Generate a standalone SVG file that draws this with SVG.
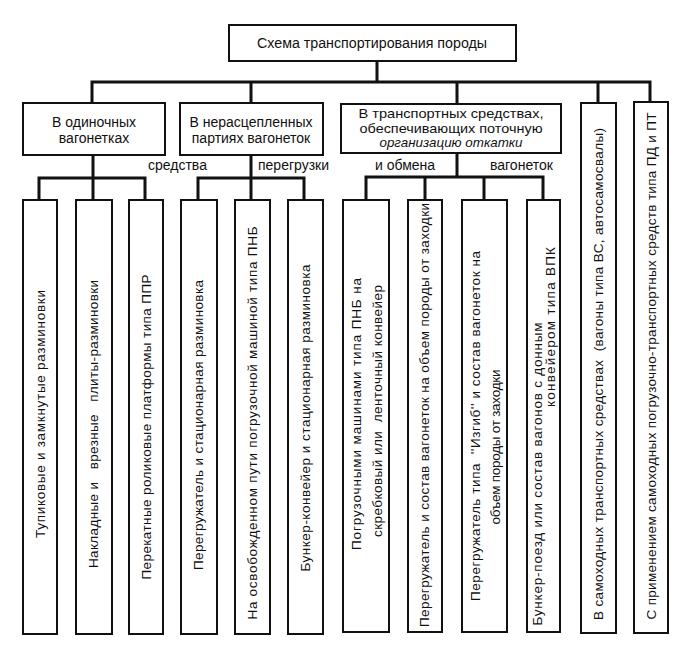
<svg xmlns="http://www.w3.org/2000/svg" width="675" height="647" viewBox="0 0 675 647">
<style>
.box{fill:#fff;stroke:#111;stroke-width:2}
.con{fill:none;stroke:#111;stroke-width:3;stroke-linecap:square}
text{font-family:"Liberation Sans",Arial,sans-serif;font-size:14px;fill:#111}
.c{text-anchor:middle}
.v{font-size:13.5px}
.s{font-size:13px}
</style>
<rect width="675" height="647" fill="#fff"/>
<g id="connectors">
<path class="con" d="M377,61V82 M92,82H650 M92,82V103 M251,82V103 M457,82V104 M598,82V103 M650,82V102"/>
<path class="con" d="M93,155V178 M39,178H145 M39,178V200 M93,178V200 M145,178V200"/>
<path class="con" d="M251,155V178 M198,178H304 M198,178V200 M251,178V200 M304,178V200"/>
<path class="con" d="M457,153V177 M366,177H543 M366,177V200 M425,177V200 M484,177V200 M543,177V200"/>
</g>
<g id="root"><rect class="box" x="229" y="25" width="287" height="36"/><text class="c" x="372" y="48" textLength="230" lengthAdjust="spacingAndGlyphs">Схема транспортирования породы</text></g>
<g id="n1"><rect class="box" x="23" y="103" width="142" height="52"/><text class="c" x="94" y="127">В одиночных</text><text class="c" x="94" y="143">вагонетках</text></g>
<g id="n2"><rect class="box" x="180" y="103" width="143" height="52"/><text class="c" x="251" y="127">В нерасцепленных</text><text class="c" x="251" y="143">партиях вагонеток</text></g>
<g id="n3"><rect class="box" x="341" y="104" width="220" height="49"/><text class="c s" x="451" y="118" textLength="185" lengthAdjust="spacingAndGlyphs">В транспортных средствах,</text><text class="c s" x="451" y="132.5" textLength="183" lengthAdjust="spacingAndGlyphs">обеспечивающих поточную</text><text class="c s" x="451" y="147" font-style="italic" textLength="143" lengthAdjust="spacingAndGlyphs">организацию откатки</text></g>
<g id="labels">
<text x="148" y="170">средства</text>
<text x="258" y="170">перегрузки</text>
<text x="375" y="170">и обмена</text>
<text x="490" y="170">вагонеток</text>
</g>
<g id="b1"><rect class="box" x="23" y="200" width="34" height="434"/><text class="c v" transform="translate(40,414) rotate(-90)" dy="0.35em" textLength="248">Тупиковые и замкнутые разминовки</text></g>
<g id="b2"><rect class="box" x="76" y="200" width="36" height="434"/><text class="c v" xml:space="preserve" transform="translate(93,424) rotate(-90)" dy="0.35em" textLength="288">Накладные и   врезные   плиты-разминовки</text></g>
<g id="b3"><rect class="box" x="129" y="200" width="34" height="434"/><text class="c v" transform="translate(146,427) rotate(-90)" dy="0.35em" textLength="305">Перекатные роликовые платформы типа ППР</text></g>
<g id="b4"><rect class="box" x="181" y="200" width="36" height="434"/><text class="c v" transform="translate(198,425) rotate(-90)" dy="0.35em" textLength="290">Перегружатель и стационарная разминовка</text></g>
<g id="b5"><rect class="box" x="235" y="200" width="35" height="434"/><text class="c v" transform="translate(252,423) rotate(-90)" dy="0.35em" textLength="393">На освобожденном пути погрузочной машиной типа ПНБ</text></g>
<g id="b6"><rect class="box" x="288" y="200" width="35" height="434"/><text class="c v" transform="translate(305,418) rotate(-90)" dy="0.35em" textLength="307">Бункер-конвейер и стационарная разминовка</text></g>
<g id="b7"><rect class="box" x="343" y="200" width="46" height="432"/><text class="c v" transform="translate(356,414) rotate(-90)" dy="0.35em" textLength="272">Погрузочными машинами типа ПНБ на</text><text class="c v" xml:space="preserve" transform="translate(377,411) rotate(-90)" dy="0.35em" textLength="252">скребковый или  ленточный конвейер</text></g>
<g id="b8"><rect class="box" x="408" y="200" width="34" height="432"/><text class="c v" transform="translate(424,415) rotate(-90)" dy="0.35em" textLength="424">Перегружатель и состав вагонеток на объем породы от заходки</text></g>
<g id="b9"><rect class="box" x="462" y="200" width="45" height="432"/><text class="c v" xml:space="preserve" transform="translate(475,426) rotate(-90)" dy="0.35em" textLength="350">Перегружатель типа  ''Изгиб'' и состав вагонеток на</text><text class="c v" transform="translate(495,447) rotate(-90)" dy="0.35em" textLength="155">объем породы от заходки</text></g>
<g id="b10"><rect class="box" x="527" y="200" width="33" height="432"/><text class="c v" transform="translate(537,474) rotate(-90)" dy="0.35em" textLength="303">Бункер-поезд или состав вагонов с донным</text><text class="c v" transform="translate(550,327) rotate(-90)" dy="0.35em" textLength="160">конвейером типа ВПК</text></g>
<g id="b11"><rect class="box" x="581" y="103" width="35" height="530"/><text class="c v" xml:space="preserve" transform="translate(598,374) rotate(-90)" dy="0.35em" textLength="492">В самоходных транспортных средствах  (вагоны типа ВС, автосамосвалы)</text></g>
<g id="b12"><rect class="box" x="634" y="102" width="34" height="531"/><text class="c v" transform="translate(651,366) rotate(-90)" dy="0.35em" textLength="507">С применением самоходных погрузочно-транспортных средств типа ПД и ПТ</text></g>
</svg>
